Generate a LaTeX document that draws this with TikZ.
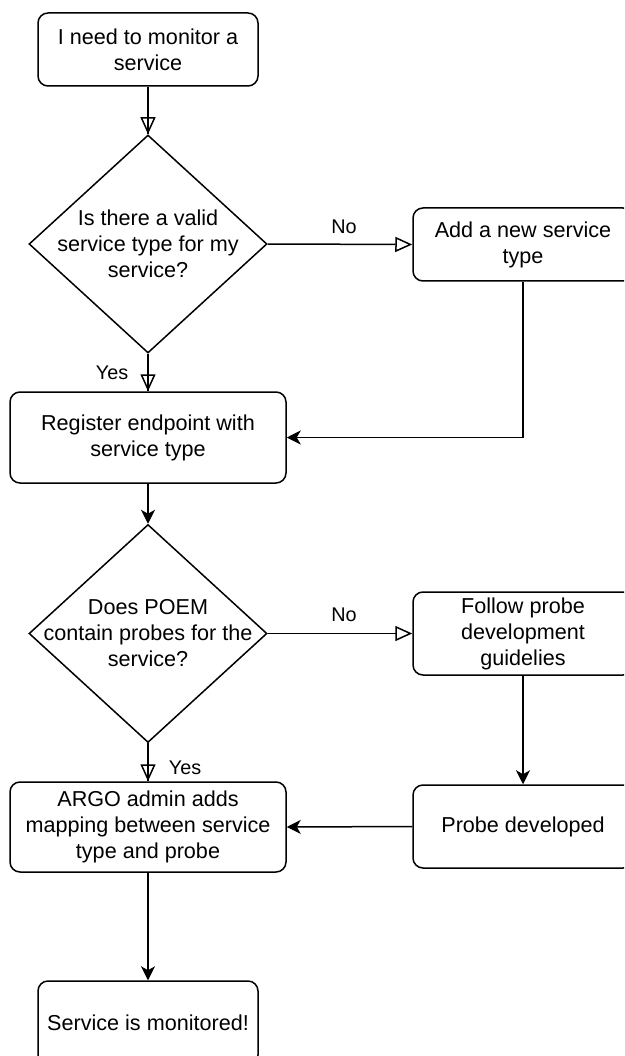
\documentclass[tikz,border=0pt]{standalone}
\usepackage{fontspec}
\setmainfont{Liberation Sans}
\usetikzlibrary{arrows.meta,shapes.geometric}
\begin{document}
\begin{tikzpicture}[x=1pt,y=-1pt,
  every node/.style={font=\fontsize{21.6}{26}\selectfont},
  box/.style={draw,line width=1.5pt,rounded corners=10pt,align=center,inner sep=0pt},
  dia/.style={draw,diamond,line width=1.5pt,inner sep=0pt,minimum width=238pt,minimum height=218pt},
  elabel/.style={font=\fontsize{19.8}{24}\selectfont},
  conn/.style={line width=1.5pt},
  openarr/.style={conn,-{Triangle[open,length=17pt,width=15pt,line width=1.5pt]}},
  thru/.style={postaction={draw,line width=1.5pt,arrows=-}},
  fillarr/.style={conn,-{Stealth[length=14pt,width=14pt,inset=4pt]}}
]
\useasboundingbox (0,0) rectangle (624,1056);
\clip (0,0) rectangle (624,1056);

\node[box,minimum width=220pt,minimum height=73pt] (start) at (148,49.5) {I need to monitor a\\service};
\node[dia,label={[align=center]center:Is there a valid\\service type for my\\service?}] (d1) at (148,244) {};
\node[box,minimum width=220pt,minimum height=73pt] (add) at (523,244.5) {Add a new service\\type};
\node[box,minimum width=276pt,minimum height=91pt] (reg) at (148,437.5) {Register endpoint with\\service type};
\node[dia,label={[align=center]center:Does POEM\\contain probes for the\\service?}] (d2) at (148,633.5) {};
\node[box,minimum width=220pt,minimum height=83pt] (follow) at (523,633.5) {Follow probe\\development\\guidelies};
\node[box,minimum width=220pt,minimum height=83pt] (probe) at (523,826.5) {Probe developed};
\node[box,minimum width=276pt,minimum height=90pt] (argo) at (148,827) {ARGO admin adds\\mapping between service\\type and probe};
\node[box,minimum width=220pt,minimum height=84pt] (svc) at (148,1023) {Service is monitored!};

\draw[openarr,thru] (start.south) -- (d1.north);
\draw[openarr] (d1.east) -- (add.west);
\node[elabel] (no1) at (344,227) {No};
\draw[openarr,thru] (d1.south) -- (reg.north);
\node[elabel] (yes1) at (112,373) {Yes};
\draw[fillarr] (add.south) |- (reg.east);
\draw[fillarr] (reg.south) -- (d2.north);
\draw[openarr] (d2.east) -- (follow.west);
\node[elabel] (no2) at (344,615) {No};
\draw[openarr,thru] (d2.south) -- (argo.north);
\node[elabel] (yes2) at (185,768) {Yes};
\draw[fillarr] (follow.south) -- (probe.north);
\draw[fillarr] (probe.west) -- (argo.east);
\draw[fillarr] (argo.south) -- (svc.north);
\end{tikzpicture}
\end{document}
